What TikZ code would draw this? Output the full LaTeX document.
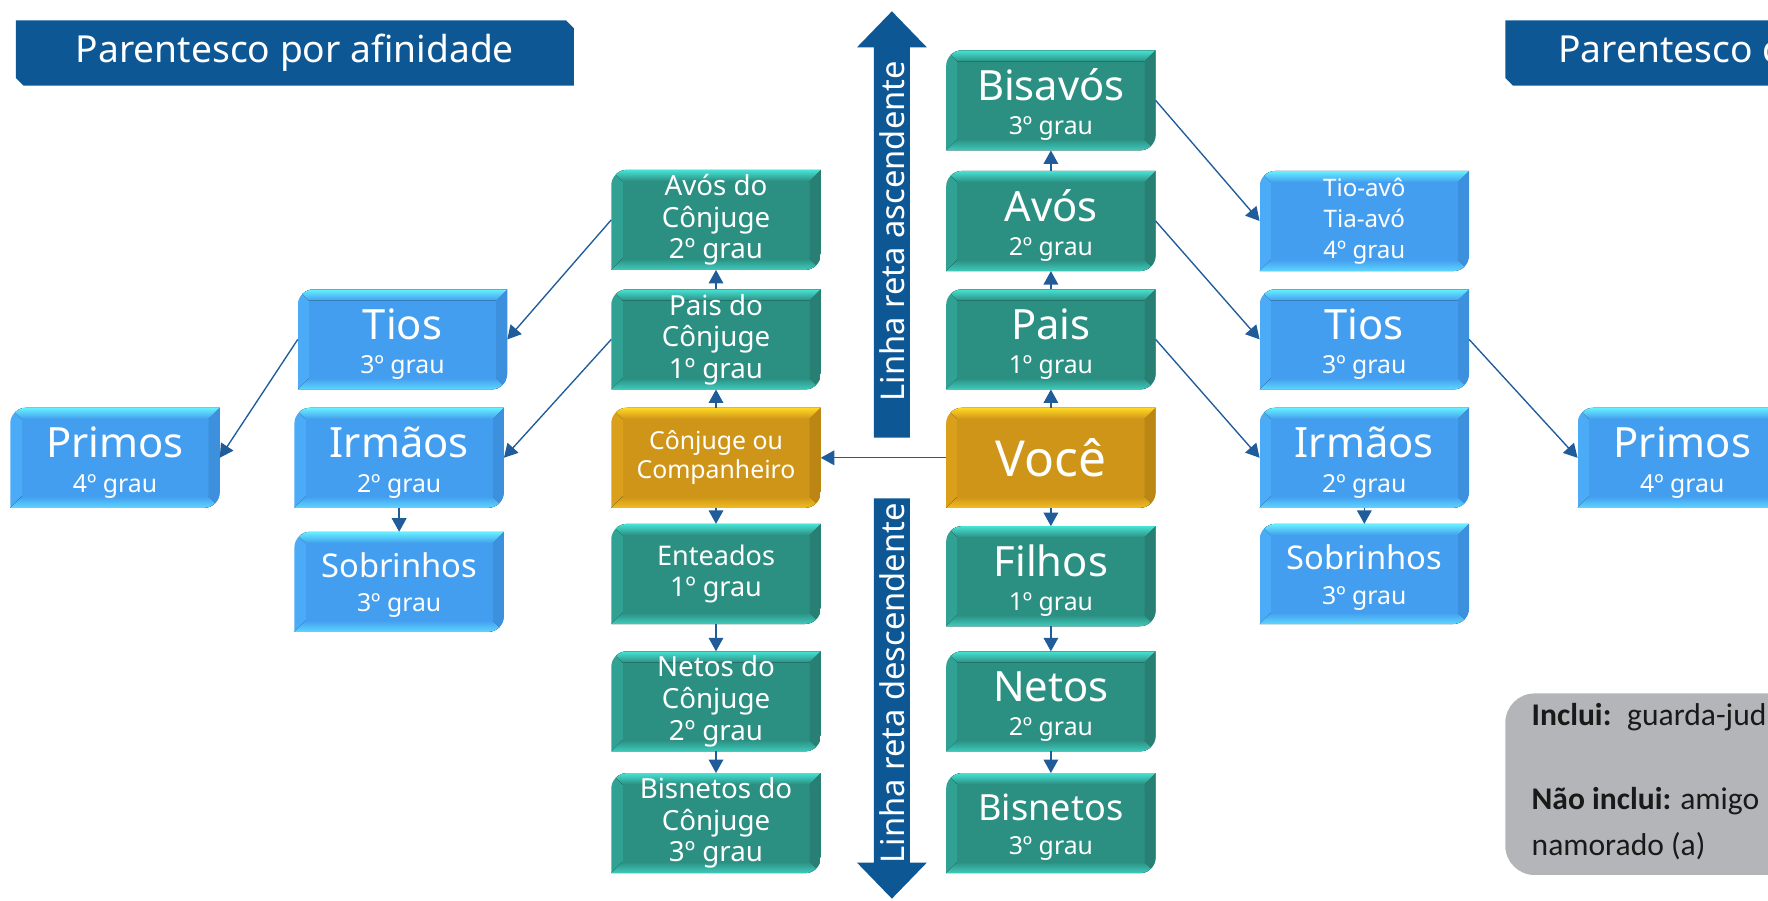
\documentclass[tikz,border=0pt]{standalone}
\usepackage{fontspec}
\setmainfont{Noto Sans}
\newfontfamily\notefont{Carlito}
\usetikzlibrary{arrows.meta,backgrounds}

\definecolor{hdrblue}{HTML}{0E5795}
\definecolor{linkblue}{HTML}{1F5C99}
\definecolor{notegrey}{HTML}{B4B5B8}
\definecolor{tlface}{HTML}{2B8F82}
\definecolor{tltop}{HTML}{46E3D4}
\definecolor{tlbot}{HTML}{3FCBBC}
\definecolor{tlside}{HTML}{31A193}
\definecolor{tlright}{HTML}{287F74}
\definecolor{blface}{HTML}{449EEF}
\definecolor{bltop}{HTML}{66F0FF}
\definecolor{blbot}{HTML}{5ED6FF}
\definecolor{blside}{HTML}{4BABF6}
\definecolor{blright}{HTML}{3D90DD}
\definecolor{gdface}{HTML}{CF9519}
\definecolor{gdtop}{HTML}{FFD923}
\definecolor{gdbot}{HTML}{F2BC22}
\definecolor{gdside}{HTML}{DAA01B}
\definecolor{gdright}{HTML}{BC8615}

\newcommand{\kin}[3][18.5]{{\fontsize{#1}{#1}\selectfont\rule{0pt}{0.97em}#2}\\#3}
\newcommand{\bevelbox}[2]{%
  \begin{scope}
    \clip ([yshift=-7pt]#1.north west) arc[start angle=180,end angle=90,radius=7pt]
      -- (#1.north east) -- ([yshift=7pt]#1.south east)
      arc[start angle=0,end angle=-90,radius=7pt] -- (#1.south west) -- cycle;
    \fill[#2side] (#1.south west) rectangle (#1.north east);
    \fill[top color=#2top,bottom color=#2face] (#1.north west) -- (#1.north east)
      -- ([shift={(-5pt,-5pt)}]#1.north east) -- ([shift={(5pt,-5pt)}]#1.north west) -- cycle;
    \fill[top color=#2face,bottom color=#2bot] (#1.south west) -- (#1.south east)
      -- ([shift={(-5pt,5pt)}]#1.south east) -- ([shift={(5pt,5pt)}]#1.south west) -- cycle;
    \fill[#2right] (#1.north east) -- (#1.south east)
      -- ([shift={(-5pt,5pt)}]#1.south east) -- ([shift={(-5pt,-5pt)}]#1.north east) -- cycle;
    \fill[#2face] ([shift={(5pt,5pt)}]#1.south west) rectangle ([shift={(-5pt,-5pt)}]#1.north east);
  \end{scope}}

\begin{document}
\begin{tikzpicture}[x=0.5pt,y=0.5pt,
    rel/.style={minimum width=92.5pt,minimum height=44pt,inner sep=0pt,align=center,
      text=white,font=\fontsize{11}{15.3}\selectfont},
    three/.style={rel,font=\fontsize{12.3}{14}\selectfont},
    header/.style={text=white,font=\fontsize{16.5}{18}\selectfont,inner sep=0pt},
    axis/.style={rotate=90,text=white,font=\fontsize{14.5}{16}\selectfont,inner sep=0pt},
    note/.style={anchor=base west,inner sep=0pt,text=black!90,font=\notefont\fontsize{14}{16}\selectfont},
    link/.style={draw=linkblue,line width=0.6pt,-{Triangle[length=6pt,width=6.5pt]}}]
  \useasboundingbox (0,0) rectangle (1568,-799);

  % headers
  \fill[hdrblue] (14,-18) -- (502,-18) -- (509,-25) -- (509,-76) -- (21,-76) -- (14,-69) -- cycle;
  \node[header] (afinidade) at (261.5,-47) {Parentesco por afinidade};
  \fill[hdrblue] (1335,-18) -- (1830,-18) -- (1830,-76) -- (1342,-76) -- (1335,-69) -- cycle;
  \node[header] (consang) at (1582,-47) {Parentesco consanguíneo};

  % linha reta
  \fill[hdrblue] (775,-388) -- (775,-42) -- (760,-42) -- (791,-10) -- (822,-42) -- (807,-42) -- (807,-388) -- cycle;
  \node[axis] (asc) at (791,-205) {Linha reta ascendente};
  \fill[hdrblue] (775,-442) -- (775,-765) -- (760,-765) -- (791,-797) -- (822,-765) -- (807,-765) -- (807,-442) -- cycle;
  \node[axis] (desc) at (791,-606) {Linha reta descendente};

  % you
  \node[rel] (bisavos) at (932,-89) {\kin{Bisavós}{3º grau}};
  \node[rel] (avos) at (932,-196) {\kin{Avós}{2º grau}};
  \node[rel] (pais) at (932,-301) {\kin{Pais}{1º grau}};
  \node[rel,font=\fontsize{22}{26}\selectfont] (voce) at (932,-406) {Você};
  \node[rel] (filhos) at (932,-511) {\kin{Filhos}{1º grau}};
  \node[rel] (netos) at (932,-622) {\kin{Netos}{2º grau}};
  \node[rel] (bisnetos) at (932,-730) {\kin[16]{Bisnetos}{3º grau}};

  % spouse
  \node[three] (avosc) at (635,-195) {Avós do\\Cônjuge\\2º grau};
  \node[three] (paisc) at (635,-301) {Pais do\\Cônjuge\\1º grau};
  \node[rel,font=\fontsize{11}{13}\selectfont] (conjuge) at (635,-406) {Cônjuge ou\\Companheiro};
  \node[rel,font=\fontsize{12}{13.5}\selectfont] (enteados) at (635,-509) {Enteados\\1º grau};
  \node[three] (netosc) at (635,-622) {Netos do\\Cônjuge\\2º grau};
  \node[three] (bisnetosc) at (635,-730) {Bisnetos do\\Cônjuge\\3º grau};

  % collaterals
  \node[rel] (tiosl) at (357,-301) {\kin{Tios}{3º grau}};
  \node[rel] (irmaosl) at (354,-406) {\kin{Irmãos}{2º grau}};
  \node[rel] (sobrinhosl) at (354,-516) {\kin[14.5]{Sobrinhos}{3º grau}};
  \node[rel] (primosl) at (102,-406) {\kin{Primos}{4º grau}};
  \node[rel,font=\fontsize{10.7}{13.75}\selectfont] (tioavo) at (1210,-196) {Tio-avô\\Tia-avó\\4º grau};
  \node[rel] (tiosr) at (1210,-301) {\kin{Tios}{3º grau}};
  \node[rel] (irmaosr) at (1210,-406) {\kin{Irmãos}{2º grau}};
  \node[rel] (sobrinhosr) at (1210,-509) {\kin[14.5]{Sobrinhos}{3º grau}};
  \node[rel] (primosr) at (1492,-406) {\kin{Primos}{4º grau}};

  \begin{scope}[on background layer]
    \foreach \n in {bisavos,avos,pais,filhos,netos,bisnetos,avosc,paisc,enteados,netosc,bisnetosc}
      \bevelbox{\n}{tl};
    \foreach \n in {tiosl,irmaosl,sobrinhosl,primosl,tioavo,tiosr,irmaosr,sobrinhosr,primosr}
      \bevelbox{\n}{bl};
    \foreach \n in {voce,conjuge}
      \bevelbox{\n}{gd};
  \end{scope}

  \foreach \a/\b in {voce/pais,pais/avos,avos/bisavos,voce/filhos,filhos/netos,netos/bisnetos,
      conjuge/paisc,paisc/avosc,conjuge/enteados,enteados/netosc,netosc/bisnetosc,
      irmaosl/sobrinhosl,irmaosr/sobrinhosr,voce/conjuge}
    \draw[link] (\a) -- (\b);
  \foreach \a/\b in {bisavos/tioavo,avos/tiosr,pais/irmaosr,tiosr/primosr}
    \draw[link] (\a.east) -- (\b.west);
  \foreach \a/\b in {avosc/tiosl,paisc/irmaosl,tiosl/primosl}
    \draw[link] (\a.west) -- (\b.east);

  % note
  \fill[notegrey,rounded corners=13pt] (1335,-615) rectangle (1640,-776);
  \node[note] (inclui) at (1358,-643) {\textbf{Inclui:}\hspace{7pt}guarda-judicial};
  \node[note] (naoinclui) at (1358,-718) {\textbf{Não inclui:}\hspace{4pt}amigo (a),};
  \node[note] (namorado) at (1358,-759) {namorado (a)};
\end{tikzpicture}
\end{document}
